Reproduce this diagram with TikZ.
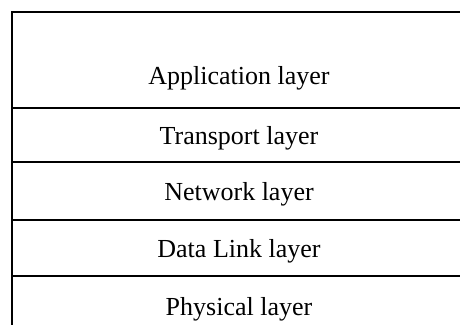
\documentclass[tikz,border=0pt]{standalone}
\usepackage{fontspec}
\setmainfont{Liberation Serif}
\usetikzlibrary{positioning}

\begin{document}
\begin{tikzpicture}[
    node distance=0pt,
    every node/.style={font=\fontsize{13}{15}\selectfont, text depth=0pt},
    layer/.style={draw, line width=0.6pt, minimum width=227pt, inner sep=0pt, outer sep=0pt}
]
\useasboundingbox (0,0) rectangle (230pt,-162.5pt);
\clip (0,0) rectangle (230pt,-162.5pt);
\node[layer, minimum height=48pt, anchor=north west, label={[yshift=-7.5pt]center:Application layer}] (app) at (6pt,-6pt) {};
\node[layer, minimum height=27pt, below=of app] (transport) {Transport layer};
\node[layer, minimum height=29pt, below=of transport] (network) {Network layer};
\node[layer, minimum height=28pt, below=of network] (datalink) {Data Link layer};
\node[layer, minimum height=30pt, below=of datalink] (physical) {Physical layer};
\end{tikzpicture}
\end{document}
